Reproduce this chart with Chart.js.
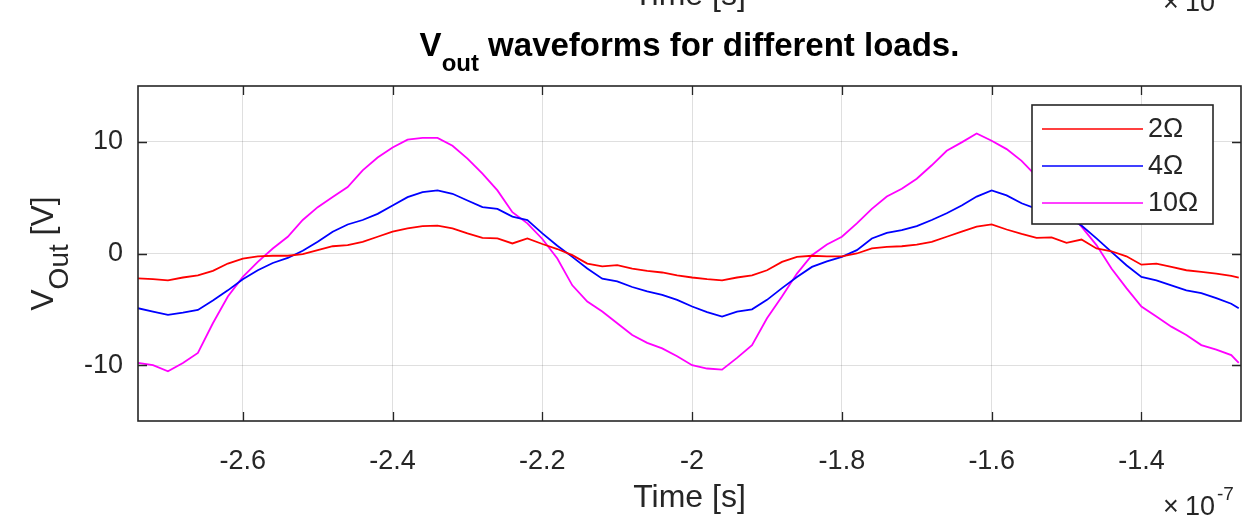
<!DOCTYPE html>
<html>
<head>
<meta charset="utf-8">
<script src="https://cdn.jsdelivr.net/npm/chart.js@4.4.0/dist/chart.umd.min.js"></script>
<style>
    html, body { margin: 0; padding: 0; background: #fff; }
    canvas { display: block; }
</style>
</head>
<body>
<canvas id="voutChart" width="1248" height="523"></canvas>
<script>
// time axis in units of 1e-7 s (shown as "x10^-7" under the axis)
const timeE7 = [
    -2.74, -2.72, -2.70, -2.68, -2.66, -2.64, -2.62, -2.60, -2.58, -2.56,
    -2.54, -2.52, -2.50, -2.48, -2.46, -2.44, -2.42, -2.40, -2.38, -2.36,
    -2.34, -2.32, -2.30, -2.28, -2.26, -2.24, -2.22, -2.20, -2.18, -2.16,
    -2.14, -2.12, -2.10, -2.08, -2.06, -2.04, -2.02, -2.00, -1.98, -1.96,
    -1.94, -1.92, -1.90, -1.88, -1.86, -1.84, -1.82, -1.80, -1.78, -1.76,
    -1.74, -1.72, -1.70, -1.68, -1.66, -1.64, -1.62, -1.60, -1.58, -1.56,
    -1.54, -1.52, -1.50, -1.48, -1.46, -1.44, -1.42, -1.40, -1.38, -1.36,
    -1.34, -1.32, -1.30, -1.28, -1.27
];

// Vout [V] for each load
const vout2 = [
    -2.23, -2.3, -2.4, -2.15, -1.95, -1.55, -0.9, -0.45, -0.25, -0.2,
    -0.2, -0.05, 0.3, 0.65, 0.75, 1.05, 1.5, 1.95, 2.25, 2.45,
    2.5, 2.25, 1.8, 1.4, 1.35, 0.9, 1.35, 0.85, 0.4, -0.15,
    -0.9, -1.15, -1.05, -1.35, -1.55, -1.7, -1.95, -2.15, -2.3, -2.4,
    -2.15, -1.95, -1.5, -0.75, -0.3, -0.2, -0.25, -0.25, 0, 0.45,
    0.6, 0.65, 0.8, 1.05, 1.5, 1.95, 2.4, 2.6, 2.15, 1.75,
    1.4, 1.45, 0.95, 1.25, 0.45, 0.2, -0.25, -1.0, -0.9, -1.2,
    -1.5, -1.65, -1.8, -2.0, -2.15
];
const vout4 = [
    -4.9, -5.2, -5.5, -5.3, -5.05, -4.2, -3.3, -2.3, -1.5, -0.85,
    -0.4, 0.25, 1.05, 1.95, 2.6, 3.0, 3.55, 4.3, 5.05, 5.5,
    5.65, 5.35, 4.75, 4.15, 4.0, 3.3, 3.0, 1.8, 0.7, -0.3,
    -1.35, -2.25, -2.5, -3.0, -3.4, -3.7, -4.15, -4.75, -5.25, -5.65,
    -5.2, -5.0, -4.15, -3.1, -2.1, -1.2, -0.7, -0.3, 0.3, 1.35,
    1.85, 2.1, 2.45, 3.0, 3.6, 4.3, 5.1, 5.65, 5.2, 4.5,
    4.0, 3.7, 3.25, 2.5, 1.35, 0.15, -1.05, -2.1, -2.4, -2.85,
    -3.3, -3.55, -4.0, -4.5, -4.9
];
const vout10 = [
    -9.8, -10.0, -10.55, -9.8, -8.9, -6.25, -3.85, -2.1, -0.75, 0.45,
    1.5, 3.0, 4.15, 5.05, 5.95, 7.45, 8.6, 9.5, 10.2, 10.35,
    10.35, 9.65, 8.5, 7.15, 5.65, 3.7, 2.7, 1.3, -0.45, -2.85,
    -4.3, -5.2, -6.25, -7.3, -8.0, -8.5, -9.2, -10.0, -10.3, -10.4,
    -9.35, -8.2, -5.8, -3.85, -1.8, -0.15, 0.8, 1.5, 2.7, 4.0,
    5.1, 5.8, 6.7, 7.9, 9.2, 9.95, 10.75, 10.1, 9.35, 8.3,
    6.9, 5.4, 3.9, 2.4, 0.75, -1.35, -3.1, -4.75, -5.65, -6.55,
    -7.3, -8.2, -8.6, -9.1, -9.8
];

const loadLabels = ['2Ω', '4Ω', '10Ω'];
const lineColors = ['#ff0000', '#0000ff', '#ff00ff'];
const xTicks = [-2.6, -2.4, -2.2, -2, -1.8, -1.6, -1.4];
const yTicks = [-10, 0, 10];

const FONT = "'Liberation Sans', Arial, Helvetica, sans-serif";
const INK = '#262626';
const GRID = 'rgba(38, 38, 38, 0.15)';

const toPoints = (vals) => timeE7.map((t, i) => ({ x: t, y: vals[i] }));

// draws a run of text pieces (for sub/superscripts), returns total width
const textRuns = (ctx, runs, x, y, align, bold) => {
    const w = runs.reduce((sum, r) => {
        ctx.font = `${bold ? 'bold ' : ''}${r.size}px ${FONT}`;
        return sum + ctx.measureText(r.t).width;
    }, 0);
    let cx = align === 'center' ? x - w / 2 : (align === 'right' ? x - w : x);
    ctx.textAlign = 'left';
    ctx.textBaseline = 'alphabetic';
    runs.forEach(r => {
        ctx.font = `${bold ? 'bold ' : ''}${r.size}px ${FONT}`;
        ctx.fillText(r.t, cx, y + (r.dy || 0));
        cx += ctx.measureText(r.t).width;
    });
    return w;
};

// MATLAB-like decorations: box, inward ticks, title, labels, legend
const matlabFrame = {
    id: 'matlabFrame',
    afterDraw(chart) {
        const { ctx, chartArea: a, scales: { x, y } } = chart;
        ctx.save();

        // inward tick marks on all four sides
        ctx.strokeStyle = INK;
        ctx.lineWidth = 1.3;
        ctx.beginPath();
        xTicks.forEach(v => {
            const px = Math.round(x.getPixelForValue(v)) + 0.5;
            ctx.moveTo(px, a.bottom); ctx.lineTo(px, a.bottom - 9);
            ctx.moveTo(px, a.top); ctx.lineTo(px, a.top + 9);
        });
        yTicks.forEach(v => {
            const py = Math.round(y.getPixelForValue(v)) + 0.5;
            ctx.moveTo(a.left, py); ctx.lineTo(a.left + 9, py);
            ctx.moveTo(a.right, py); ctx.lineTo(a.right - 9, py);
        });
        ctx.stroke();

        ctx.lineWidth = 1.6;
        ctx.strokeRect(a.left, a.top, a.right - a.left, a.bottom - a.top);

        // legend box
        const lg = { left: 1032, top: 105, right: 1213, bottom: 224 };
        ctx.fillStyle = '#fff';
        ctx.fillRect(lg.left, lg.top, lg.right - lg.left, lg.bottom - lg.top);
        ctx.strokeStyle = INK;
        ctx.lineWidth = 1.6;
        ctx.strokeRect(lg.left, lg.top, lg.right - lg.left, lg.bottom - lg.top);
        chart.data.datasets.forEach((ds, i) => {
            const ry = 129 + i * 37;
            ctx.strokeStyle = ds.borderColor;
            ctx.lineWidth = 1.7;
            ctx.beginPath();
            ctx.moveTo(1042, ry); ctx.lineTo(1143, ry);
            ctx.stroke();
            ctx.fillStyle = INK;
            ctx.font = `27px ${FONT}`;
            ctx.textAlign = 'left';
            ctx.textBaseline = 'middle';
            ctx.fillText(ds.label, 1148, ry + 1);
        });

        const midX = (a.left + a.right) / 2;

        // title
        ctx.fillStyle = '#000';
        textRuns(ctx, [
            { t: 'V', size: 33 },
            { t: 'out', size: 24, dy: 15 },
            { t: ' waveforms for different loads.', size: 33 }
        ], midX, 56, 'center', true);

        // x label and exponent
        ctx.fillStyle = INK;
        textRuns(ctx, [{ t: 'Time [s]', size: 32 }], midX, 507, 'center');
        textRuns(ctx, [{ t: '×', size: 27 }], 1163, 515, 'left');
        textRuns(ctx, [{ t: '10', size: 27 }], 1185, 515, 'left');
        textRuns(ctx, [{ t: '-7', size: 19 }], 1217, 500, 'left');

        // remnants of the subplot above, cut by the top edge
        textRuns(ctx, [{ t: 'Time [s]', size: 32 }], midX, 5, 'center');
        textRuns(ctx, [{ t: '×', size: 27 }], 1163, 11, 'left');
        textRuns(ctx, [{ t: '10', size: 27 }], 1185, 11, 'left');

        // y label, rotated
        ctx.translate(53, (a.top + a.bottom) / 2);
        ctx.rotate(-Math.PI / 2);
        textRuns(ctx, [
            { t: 'V', size: 32 },
            { t: 'Out', size: 28, dy: 15 },
            { t: ' [V]', size: 32 }
        ], 0, 0, 'center');

        ctx.restore();
    }
};

const datasets = [vout2, vout4, vout10].map((vals, i) => ({
    label: loadLabels[i],
    data: toPoints(vals),
    borderColor: lineColors[i],
    backgroundColor: lineColors[i],
    borderWidth: 1.8,
    pointRadius: 0,
    tension: 0,
    fill: false
}));

new Chart(document.getElementById('voutChart').getContext('2d'), {
    type: 'line',
    data: { datasets },
    options: {
        responsive: false,
        animation: false,
        layout: { padding: { top: 86, right: 7, left: 0, bottom: 0 } },
        plugins: { legend: { display: false }, tooltip: { enabled: false } },
        scales: {
            x: {
                type: 'linear',
                min: -2.74,
                max: -1.267,
                afterFit: (s) => { s.height = 102; },
                afterBuildTicks: (s) => { s.ticks = xTicks.map(v => ({ value: v })); },
                grid: { color: GRID, drawTicks: false },
                border: { display: false },
                ticks: {
                    padding: 24, color: INK, maxRotation: 0, autoSkip: false,
                    font: { family: FONT, size: 27 },
                    callback: (v) => String(v)
                }
            },
            y: {
                type: 'linear',
                min: -15,
                max: 15,
                afterFit: (s) => { s.width = 138; },
                afterBuildTicks: (s) => { s.ticks = yTicks.map(v => ({ value: v })); },
                grid: { color: GRID, drawTicks: false },
                border: { display: false },
                ticks: {
                    padding: 15, color: INK,
                    font: { family: FONT, size: 27 },
                    callback: (v) => String(v)
                }
            }
        }
    },
    plugins: [matlabFrame]
});
</script>
</body>
</html>
